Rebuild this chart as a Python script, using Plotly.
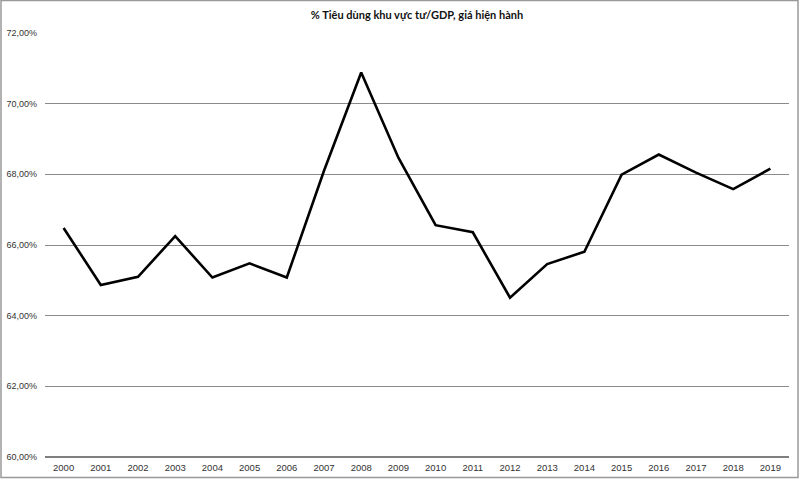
import plotly.graph_objects as go

years = [str(y) for y in range(2000, 2020)]
consumption_pct = [66.48, 64.87, 65.10, 66.25, 65.08, 65.48, 65.08, 68.10, 70.88, 68.47,
                   66.56, 66.36, 64.51, 65.46, 65.81, 67.99, 68.56, 68.05, 67.58, 68.16]
y_ticks_pct = [60, 62, 64, 66, 68, 70, 72]
title_text = "% Tiêu dùng khu vực tư/GDP, giá hiện hành"

W, H = 800, 479
ml, mr, mt, mb = 45, 11, 33, 22

share = [v / 100 for v in consumption_pct]
tick_share = [v / 100 for v in y_ticks_pct]

fig = go.Figure()
fig.add_trace(go.Scatter(x=years, y=share, mode="lines",
                         line=dict(color="black", width=2.6), showlegend=False))

pw = W - ml - mr
ph = H - mt - mb
def px_x(p):
    return (p - ml) / pw
def px_y(p):
    return (H - mb - p) / ph

fig.update_layout(
    width=W, height=H,
    margin=dict(l=ml, r=mr, t=mt, b=mb),
    paper_bgcolor="white", plot_bgcolor="white",
    separators=",.",
    title=dict(text="<b>" + title_text + "</b>", x=0.5, xref="paper", xanchor="center",
               y=1 - 15 / H, yanchor="middle", automargin=False,
               font=dict(family="Lato, Liberation Sans, sans-serif", size=11, color="#111")),
    xaxis=dict(type="category", range=[-0.5, len(years) - 0.5], automargin=False,
               showgrid=False, zeroline=False, showline=False,
               ticks="", tickfont=dict(family="Liberation Sans, Arial, sans-serif", size=9.5, color="#333"),
               ticklabelstandoff=3),
    yaxis=dict(range=[tick_share[0], tick_share[-1]], tickvals=tick_share, tickformat=".2%",
               automargin=False,
               showgrid=True, gridcolor="#8a8a8a", gridwidth=1.2, zeroline=False,
               showline=False, ticks="",
               tickfont=dict(family="Liberation Sans, Arial, sans-serif", size=9, color="#333"),
               ticklabelstandoff=7),
    shapes=[
        dict(type="line", xref="paper", yref="paper", x0=0, x1=1, y0=0, y1=0,
             line=dict(color="#555", width=1.4)),
        dict(type="rect", xref="paper", yref="paper",
             x0=px_x(1), x1=px_x(798), y0=px_y(477.5), y1=px_y(0.5),
             line=dict(color="#999", width=1.5), layer="below"),
    ],
)

fig.write_html("out.html", config={"displayModeBar": False},
               post_script="document.body.style.margin='0';document.body.style.overflow='hidden';")
